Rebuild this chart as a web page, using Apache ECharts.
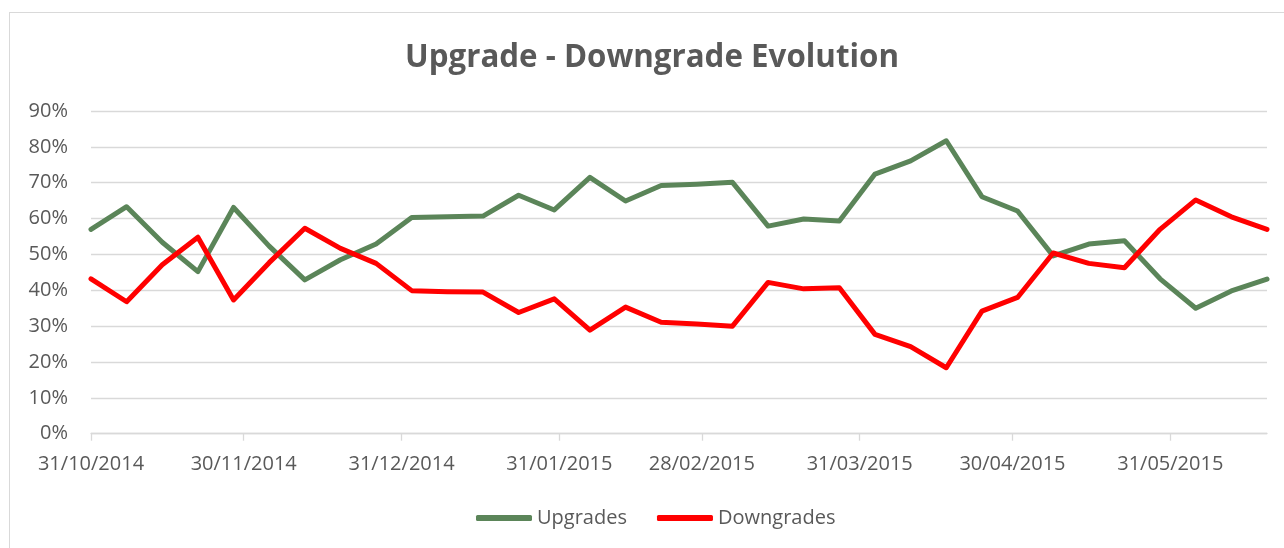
<!DOCTYPE html>
<html>
<head>
<meta charset="utf-8">
<script src="https://cdn.jsdelivr.net/npm/echarts@6/dist/echarts.min.js"></script>
<style>
  html, body { margin: 0; padding: 0; background: #fff; }
  #frame { position: absolute; left: 9px; top: 12px; width: 1400px; height: 700px; border: 1px solid #D9D9D9; box-sizing: border-box; }
  #chart { position: absolute; left: 0; top: 0; width: 1284px; height: 548px; }
</style>
</head>
<body>
<div id="frame"></div>
<div id="chart"></div>
<script>
const dates = ['2014-10-31','2014-11-07','2014-11-14','2014-11-21','2014-11-28','2014-12-05','2014-12-12','2014-12-19','2014-12-26',
  '2015-01-02','2015-01-09','2015-01-16','2015-01-23','2015-01-30','2015-02-06','2015-02-13','2015-02-20','2015-02-27',
  '2015-03-06','2015-03-13','2015-03-20','2015-03-27','2015-04-03','2015-04-10','2015-04-17','2015-04-24',
  '2015-05-01','2015-05-08','2015-05-15','2015-05-22','2015-05-29','2015-06-05','2015-06-12','2015-06-19'];
const upgrades = [57.0, 63.3, 53.4, 45.2, 63.1, 52.3, 42.9, 48.5, 52.9, 60.3, 60.5, 60.7, 66.5, 62.4, 71.5, 64.9, 69.2,
  69.6, 70.1, 57.9, 59.9, 59.3, 72.4, 76.1, 81.7, 66.1, 62.1, 49.6, 52.9, 53.8, 43.2, 35.0, 39.8, 43.1];
const downgrades = [43.2, 36.8, 47.1, 54.8, 37.3, 47.7, 57.3, 51.7, 47.5, 39.9, 39.6, 39.5, 33.8, 37.6, 28.9, 35.3, 31.1,
  30.6, 30.0, 42.2, 40.4, 40.7, 27.7, 24.3, 18.4, 34.2, 38.0, 50.4, 47.5, 46.3, 57.0, 65.2, 60.5, 57.0];
const tickDates = ['2014-10-31','2014-11-30','2014-12-31','2015-01-31','2015-02-28','2015-03-31','2015-04-30','2015-05-31'];

function ts(s) { const p = s.split('-').map(Number); return new Date(p[0], p[1] - 1, p[2]).getTime(); }
function pad(n) { return (n < 10 ? '0' : '') + n; }
const tickTs = tickDates.map(ts);
const FONT = '"Open Sans", sans-serif';
const TXT = '#595959';

const chart = echarts.init(document.getElementById('chart'));
chart.setOption({
  animation: false,
  backgroundColor: 'transparent',
  title: {
    text: 'Upgrade - Downgrade Evolution',
    left: 652, textAlign: 'center', top: 43, padding: 0,
    textStyle: { fontFamily: FONT, fontSize: 31.3, fontWeight: 'bold', color: TXT }
  },
  grid: { left: 91, right: 17, top: 111, bottom: 114.3 },
  xAxis: {
    type: 'value',
    scale: true,
    min: ts(dates[0]), max: ts(dates[dates.length - 1]),
    axisLine: { show: true, lineStyle: { color: '#D9D9D9', width: 1.3 } },
    axisTick: { show: true, length: 7, customValues: tickTs, lineStyle: { color: '#D9D9D9', width: 1.3 } },
    splitLine: { show: false },
    axisLabel: {
      customValues: tickTs,
      margin: 21,
      fontFamily: FONT, fontSize: 20, color: TXT,
      formatter: function (v) { const d = new Date(v); return pad(d.getDate()) + '/' + pad(d.getMonth() + 1) + '/' + d.getFullYear(); }
    }
  },
  yAxis: {
    type: 'value', min: 0, max: 90, interval: 10,
    axisLine: { show: false }, axisTick: { show: false },
    splitLine: { lineStyle: { color: '#D9D9D9', width: 1.3 } },
    axisLabel: { formatter: '{value}%', margin: 23, fontFamily: FONT, fontSize: 20, color: TXT }
  },
  legend: {
    top: 508, left: 476, padding: 0,
    icon: 'roundRect', itemWidth: 56, itemHeight: 6, itemGap: 30,
    textStyle: { fontFamily: FONT, fontSize: 20, color: TXT },
    data: ['Upgrades', 'Downgrades']
  },
  series: [
    { name: 'Upgrades', type: 'line', symbol: 'none', color: '#5B8559',
      lineStyle: { width: 5, color: '#5B8559', cap: 'round', join: 'round' },
      data: dates.map((d, i) => [ts(d), upgrades[i]]) },
    { name: 'Downgrades', type: 'line', symbol: 'none', color: '#FF0000',
      lineStyle: { width: 5, color: '#FF0000', cap: 'round', join: 'round' },
      data: dates.map((d, i) => [ts(d), downgrades[i]]) }
  ]
});
</script>
</body>
</html>
